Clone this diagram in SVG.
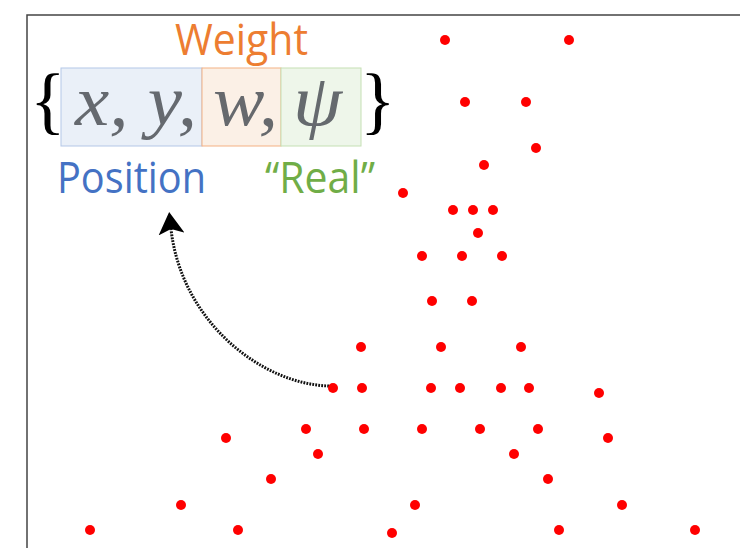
<svg xmlns="http://www.w3.org/2000/svg" width="740" height="548" viewBox="0 0 740 548">
<style>
.dot{fill:#ff0000}
.lbl{font-family:"Open Sans","Noto Sans","Liberation Sans",sans-serif;font-size:43px}
.math{font-family:"Liberation Serif","DejaVu Serif",serif;font-style:italic;font-size:72px;fill:#595d63;fill-opacity:0.92}
.brace{font-family:"Liberation Serif","DejaVu Serif",serif;font-size:74px;fill:#000}
</style>
<defs>
<marker id="ah" markerUnits="userSpaceOnUse" viewBox="0 0 22 26" markerWidth="22" markerHeight="26" refX="5" refY="13" orient="auto">
<path d="M0,0 L22,13 L0,26 L5,13 z" fill="#000"/>
</marker>
</defs>
<rect x="27" y="15" width="800" height="600" fill="#fff" stroke="#444" stroke-width="1.5"/>
<g id="tuple">
<rect x="61" y="68" width="141" height="78" fill="#eaf0f8" stroke="#b4c7e7" stroke-width="1"/>
<rect x="202" y="68" width="79" height="78" fill="#fbf0e6" stroke="#f4b183" stroke-width="1"/>
<rect x="281" y="68" width="80" height="78" fill="#eef6ea" stroke="#c5e0b4" stroke-width="1"/>
<text class="brace" x="30" y="125">{</text>
<text class="brace" x="360" y="125">}</text>
<text class="math" x="75" y="125" textLength="122" lengthAdjust="spacingAndGlyphs">x, y,</text>
<text class="math" x="213" y="125" textLength="65" lengthAdjust="spacingAndGlyphs">w,</text>
<text class="math" x="293" y="125" textLength="49" lengthAdjust="spacingAndGlyphs">ψ</text>
</g>
<g id="label-weight"><text class="lbl" x="175" y="55" fill="#ed7d31" textLength="133" lengthAdjust="spacingAndGlyphs">Weight</text></g>
<g id="label-position"><text class="lbl" x="57" y="193" fill="#4472c4" textLength="149" lengthAdjust="spacingAndGlyphs">Position</text></g>
<g id="label-real"><text class="lbl" x="265" y="193" fill="#70ad47" textLength="110" lengthAdjust="spacingAndGlyphs">“Real”</text></g>
<g id="connectors">
<path d="M329,386 C260,384 181,320 171,229" fill="none" stroke="#111" stroke-width="3" stroke-dasharray="1.8 1.2" marker-end="url(#ah)"/>
</g>
<g id="points">
<circle class="dot" cx="445" cy="40" r="5"/>
<circle class="dot" cx="569" cy="40" r="5"/>
<circle class="dot" cx="465" cy="102" r="5"/>
<circle class="dot" cx="526" cy="102" r="5"/>
<circle class="dot" cx="536" cy="148" r="5"/>
<circle class="dot" cx="484" cy="165" r="5"/>
<circle class="dot" cx="403" cy="193" r="5"/>
<circle class="dot" cx="453" cy="210" r="5"/>
<circle class="dot" cx="473" cy="210" r="5"/>
<circle class="dot" cx="493" cy="210" r="5"/>
<circle class="dot" cx="478" cy="233" r="5"/>
<circle class="dot" cx="422" cy="256" r="5"/>
<circle class="dot" cx="462" cy="256" r="5"/>
<circle class="dot" cx="502" cy="256" r="5"/>
<circle class="dot" cx="432" cy="301" r="5"/>
<circle class="dot" cx="472" cy="301" r="5"/>
<circle class="dot" cx="361" cy="347" r="5"/>
<circle class="dot" cx="441" cy="347" r="5"/>
<circle class="dot" cx="521" cy="347" r="5"/>
<circle class="dot" cx="333" cy="388" r="5"/>
<circle class="dot" cx="362" cy="388" r="5"/>
<circle class="dot" cx="431" cy="388" r="5"/>
<circle class="dot" cx="460" cy="388" r="5"/>
<circle class="dot" cx="501" cy="388" r="5"/>
<circle class="dot" cx="529" cy="388" r="5"/>
<circle class="dot" cx="599" cy="393" r="5"/>
<circle class="dot" cx="306" cy="429" r="5"/>
<circle class="dot" cx="364" cy="429" r="5"/>
<circle class="dot" cx="422" cy="429" r="5"/>
<circle class="dot" cx="480" cy="429" r="5"/>
<circle class="dot" cx="538" cy="429" r="5"/>
<circle class="dot" cx="226" cy="438" r="5"/>
<circle class="dot" cx="608" cy="438" r="5"/>
<circle class="dot" cx="318" cy="454" r="5"/>
<circle class="dot" cx="514" cy="454" r="5"/>
<circle class="dot" cx="271" cy="479" r="5"/>
<circle class="dot" cx="548" cy="479" r="5"/>
<circle class="dot" cx="181" cy="505" r="5"/>
<circle class="dot" cx="415" cy="505" r="5"/>
<circle class="dot" cx="622" cy="505" r="5"/>
<circle class="dot" cx="90" cy="530" r="5"/>
<circle class="dot" cx="238" cy="530" r="5"/>
<circle class="dot" cx="392" cy="533" r="5"/>
<circle class="dot" cx="559" cy="530" r="5"/>
<circle class="dot" cx="695" cy="530" r="5"/>
</g>
</svg>
